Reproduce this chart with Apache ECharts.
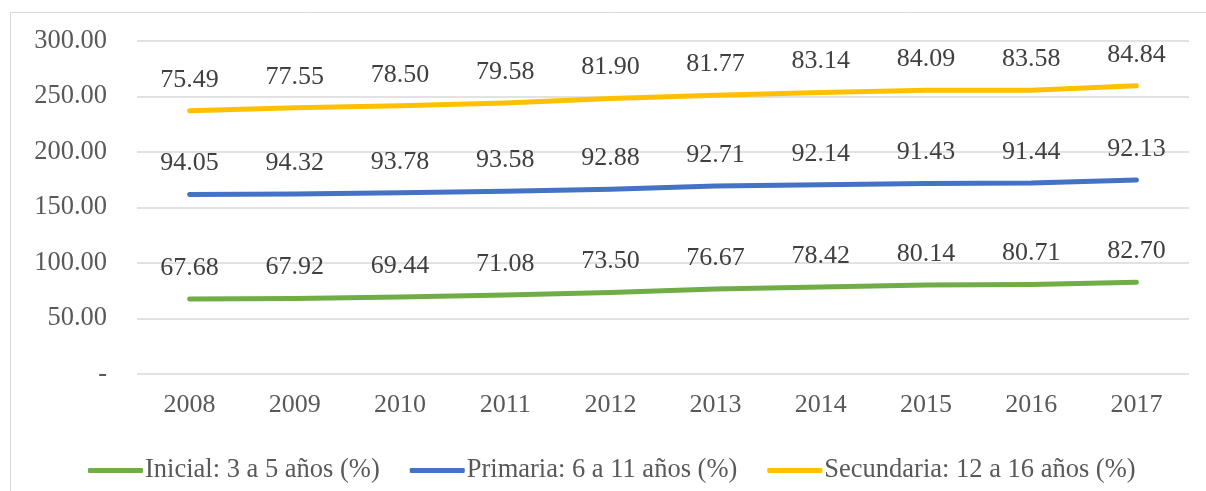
<!DOCTYPE html>
<html>
<head>
<meta charset="utf-8">
<script src="https://cdn.jsdelivr.net/npm/echarts@6/dist/echarts.min.js"></script>
<style>
  html, body { margin: 0; padding: 0; background: #fff; }
  #chart { width: 1206px; height: 491px; }
</style>
</head>
<body>
<div id="chart"></div>
<script>
// data
var years = ['2008', '2009', '2010', '2011', '2012', '2013', '2014', '2015', '2016', '2017']
var inicial = [67.68, 67.92, 69.44, 71.08, 73.50, 76.67, 78.42, 80.14, 80.71, 82.70]
var primaria = [94.05, 94.32, 93.78, 93.58, 92.88, 92.71, 92.14, 91.43, 91.44, 92.13]
var secundaria = [75.49, 77.55, 78.50, 79.58, 81.90, 81.77, 83.14, 84.09, 83.58, 84.84]

var font = 'Liberation Serif'
var textColor = '#595959'

function makeSeries (name, data, color) {
  return {
    name: name,
    type: 'line',
    stack: 'total',
    data: data,
    symbol: 'circle',
    symbolSize: 0,
    showSymbol: true,
    lineStyle: { width: 5, color: color, cap: 'round', join: 'round' },
    itemStyle: { color: color },
    label: {
      show: true,
      position: 'top',
      distance: 18,
      fontFamily: font,
      fontSize: 26,
      color: '#404040',
      formatter: function (p) { return p.value.toFixed(2) }
    }
  }
}

var chart = echarts.init(document.getElementById('chart'))
chart.setOption({
  animation: false,
  textStyle: { fontFamily: font },
  graphic: [{
    type: 'rect',
    shape: { x: 10.5, y: 12.5, width: 1300, height: 600 },
    style: { fill: 'none', stroke: '#d9d9d9', lineWidth: 1 },
    silent: true
  }],
  grid: { left: 137, right: 17, top: 41, bottom: 117 },
  legend: {
    left: 83,
    top: 452,
    icon: 'roundRect',
    itemWidth: 55,
    itemHeight: 5,
    itemGap: 30,
    textStyle: { fontFamily: font, fontSize: 26.5, color: textColor, padding: [0, 0, 0, -3] },
    data: ['Inicial: 3 a 5 años (%)', 'Primaria: 6 a 11 años (%)', 'Secundaria: 12 a 16 años (%)']
  },
  xAxis: {
    type: 'category',
    data: years,
    boundaryGap: true,
    axisLine: { show: false },
    axisTick: { show: false },
    axisLabel: { fontFamily: font, fontSize: 26, color: textColor, margin: 18 }
  },
  yAxis: {
    type: 'value',
    min: 0,
    max: 300,
    interval: 50,
    axisLine: { show: false },
    axisTick: { show: false },
    splitLine: { lineStyle: { color: '#d9d9d9', width: 1.5 } },
    axisLabel: {
      fontFamily: font,
      fontSize: 26.5,
      color: textColor,
      margin: 30,
      formatter: function (v) { return v === 0 ? '-' : v.toFixed(2) }
    }
  },
  series: [
    makeSeries('Inicial: 3 a 5 años (%)', inicial, '#70AD47'),
    makeSeries('Primaria: 6 a 11 años (%)', primaria, '#4472C4'),
    makeSeries('Secundaria: 12 a 16 años (%)', secundaria, '#FFC000')
  ]
})
</script>
</body>
</html>
